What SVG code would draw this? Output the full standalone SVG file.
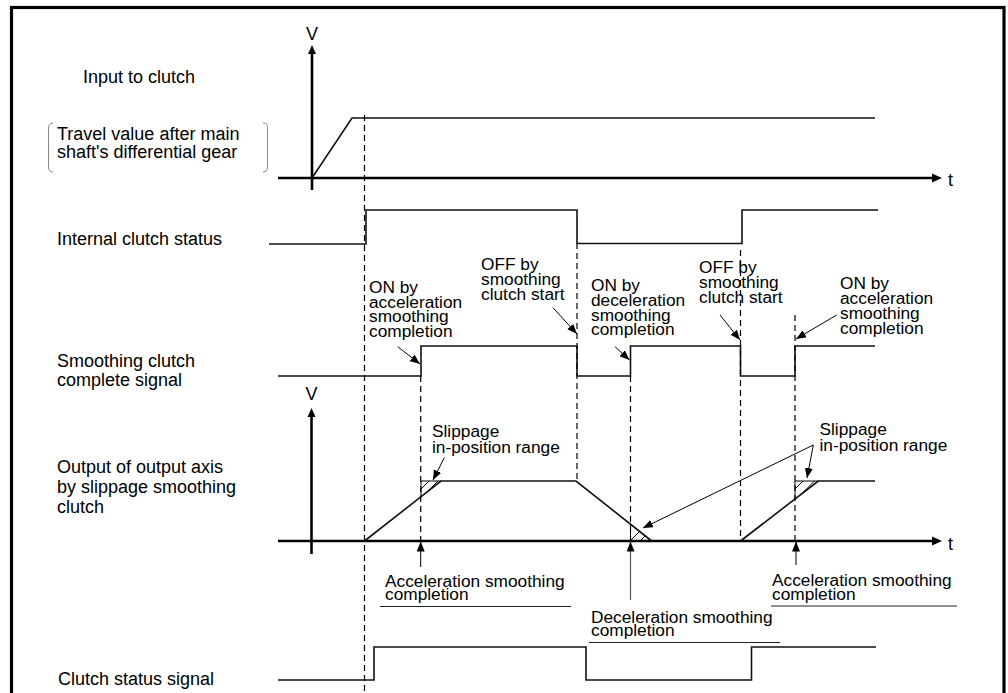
<svg xmlns="http://www.w3.org/2000/svg" width="1008" height="693" viewBox="0 0 1008 693">
<style>
text{font-family:"Liberation Sans",Arial,sans-serif;fill:#000}
.lbl{font-size:18px}
.ann{font-size:17.3px}
.sig{fill:none;stroke:#111;stroke-width:1.6}
.axis{fill:none;stroke:#000;stroke-width:2.6}
.dash{fill:none;stroke:#000;stroke-width:1.2;stroke-dasharray:6 4}
.arr{fill:none;stroke:#000;stroke-width:1;marker-end:url(#ah)}
.arrg{fill:none;stroke:#555;stroke-width:1.2;marker-end:url(#ah)}
.thin{fill:none;stroke:#000;stroke-width:1}
.ul{fill:none;stroke:#222;stroke-width:1}
</style>
<defs>
<marker id="ah" markerWidth="10" markerHeight="8" refX="10" refY="4" orient="auto" markerUnits="userSpaceOnUse"><path d="M0,0 L10,4 L0,8 z" fill="#000"/></marker>
</defs>
<rect x="0" y="0" width="1008" height="693" fill="#fff"/>
<rect x="11.5" y="7.5" width="992.5" height="720" fill="none" stroke="#000" stroke-width="3.2"/>

<g id="top-axes">
<line class="axis" x1="312" y1="53" x2="312" y2="190"/>
<polygon points="312,45 308,54 316,54" fill="#000"/>
<line class="axis" x1="278" y1="178" x2="934" y2="178"/>
<polygon points="942,178 932,173.5 932,182.5" fill="#000"/>
<text class="lbl" x="306" y="40">V</text>
<text class="lbl" x="948" y="186">t</text>
</g>

<g id="bottom-axes">
<line class="axis" x1="311.5" y1="416" x2="311.5" y2="554"/>
<polygon points="311.5,408 307.5,417 315.5,417" fill="#000"/>
<line class="axis" x1="278" y1="541" x2="934" y2="541"/>
<polygon points="942,541 932,536.5 932,545.5" fill="#000"/>
<text class="lbl" x="305.5" y="400">V</text>
<text class="lbl" x="948" y="550">t</text>
</g>

<g id="label-input">
<text class="lbl" x="83" y="83">Input to clutch</text>
<text class="lbl" x="57" y="140">Travel value after main</text>
<text class="lbl" x="57" y="158">shaft's differential gear</text>
<path d="M53,123 Q48.5,123 48.5,128 L48.5,167 Q48.5,172 53,172" fill="none" stroke="#888" stroke-width="1"/>
<path d="M263,123 Q267.5,123 267.5,128 L267.5,167 Q267.5,172 263,172" fill="none" stroke="#888" stroke-width="1"/>
</g>
<g id="label-internal"><text class="lbl" x="57" y="245">Internal clutch status</text></g>
<g id="label-smoothing">
<text class="lbl" x="57" y="367">Smoothing clutch</text>
<text class="lbl" x="57" y="386">complete signal</text>
</g>
<g id="label-output">
<text class="lbl" x="57" y="473">Output of output axis</text>
<text class="lbl" x="57" y="493">by slippage smoothing</text>
<text class="lbl" x="57" y="513">clutch</text>
</g>
<g id="label-clutch-status"><text class="lbl" x="58" y="685">Clutch status signal</text></g>

<g id="wave-input"><polyline class="sig" points="312,178 352,118 875,118"/></g>
<g id="wave-internal"><polyline class="sig" points="269,244 366,244 366,210 577,210 577,243.5 742,243.5 742,210 878,210"/></g>
<g id="wave-smoothing"><polyline class="sig" points="278,376 421,376 421,346 577,346 577,376 630.5,376 630.5,346 740.5,346 740.5,376 795,376 795,346 875,346"/></g>
<g id="wave-output">
<polyline class="sig" points="364.5,541 441,481 576,481 651.7,541"/>
<polyline class="sig" points="740.5,541 818.3,481 875,481"/>
<g id="hatch1">
<polyline class="thin" points="421,496.5 421,481 441,481"/>
<line class="thin" x1="421" y1="489" x2="429" y2="481"/>
<line class="thin" x1="428" y1="491" x2="438" y2="481"/>
</g>
<g id="hatch2">
<polyline class="thin" points="630.5,524 630.5,541"/>
<line class="thin" x1="631" y1="540" x2="640" y2="531"/>
<line class="thin" x1="640" y1="541" x2="645.5" y2="535.5"/>
</g>
<g id="hatch3">
<polyline class="thin" points="795,499 795,481 818,481"/>
<line class="thin" x1="795" y1="489" x2="803" y2="481"/>
<line class="thin" x1="802" y1="493.5" x2="814.5" y2="481"/>
</g>
</g>
<g id="wave-clutch-status"><polyline class="sig" points="278,680 374,680 374,647 586,647 586,680 751.5,680 751.5,647 876,647"/></g>

<g id="ann-on1">
<text class="ann" x="369" y="292.5">ON by</text>
<text class="ann" x="369" y="307.5">acceleration</text>
<text class="ann" x="369" y="322">smoothing</text>
<text class="ann" x="369" y="336.5">completion</text>
</g>
<g id="ann-off1">
<text class="ann" x="481" y="269.5">OFF by</text>
<text class="ann" x="481" y="285">smoothing</text>
<text class="ann" x="481" y="300">clutch start</text>
</g>
<g id="ann-on2">
<text class="ann" x="591" y="291">ON by</text>
<text class="ann" x="591" y="306">deceleration</text>
<text class="ann" x="591" y="320.5">smoothing</text>
<text class="ann" x="591" y="335">completion</text>
</g>
<g id="ann-off2">
<text class="ann" x="699" y="273">OFF by</text>
<text class="ann" x="699" y="288">smoothing</text>
<text class="ann" x="699" y="303">clutch start</text>
</g>
<g id="ann-on3">
<text class="ann" x="840" y="289">ON by</text>
<text class="ann" x="840" y="304">acceleration</text>
<text class="ann" x="840" y="319">smoothing</text>
<text class="ann" x="840" y="334">completion</text>
</g>
<g id="ann-slip1">
<text class="ann" x="432" y="437">Slippage</text>
<text class="ann" x="432" y="453">in-position range</text>
</g>
<g id="ann-slip2">
<text class="ann" x="819.5" y="435">Slippage</text>
<text class="ann" x="819.5" y="451">in-position range</text>
</g>
<g id="ann-acc1">
<text class="ann" x="385" y="586.5">Acceleration smoothing</text>
<text class="ann" x="385" y="600">completion</text>
<line class="ul" x1="380" y1="606.5" x2="571" y2="606.5"/>
</g>
<g id="ann-dec">
<text class="ann" x="591" y="622.5">Deceleration smoothing</text>
<text class="ann" x="591" y="636">completion</text>
<line class="ul" x1="589" y1="642.5" x2="780" y2="642.5"/>
</g>
<g id="ann-acc2">
<text class="ann" x="772" y="586">Acceleration smoothing</text>
<text class="ann" x="772" y="600">completion</text>
<line class="ul" x1="771" y1="606" x2="957" y2="606"/>
</g>

<g id="connectors">
<line class="dash" x1="364.5" y1="115" x2="364.5" y2="693"/>
<line class="dash" x1="420.7" y1="376" x2="420.7" y2="541"/>
<line class="dash" x1="577" y1="243" x2="577" y2="481"/>
<line class="dash" x1="630.5" y1="376" x2="630.5" y2="541"/>
<line class="dash" x1="740.5" y1="250" x2="740.5" y2="541"/>
<line class="dash" x1="795" y1="315" x2="795" y2="541"/>
<line class="arr" x1="397.7" y1="346.7" x2="420" y2="364"/>
<line class="arr" x1="553" y1="307.7" x2="577" y2="334"/>
<line class="arr" x1="615" y1="346.7" x2="629.5" y2="360"/>
<line class="arr" x1="720" y1="315" x2="740" y2="340"/>
<line class="arr" x1="836.7" y1="315" x2="796" y2="339"/>
<line class="arr" x1="444.3" y1="457.7" x2="433" y2="480"/>
<line class="arr" x1="813.3" y1="445" x2="643" y2="528"/>
<line class="arr" x1="813.3" y1="445" x2="807" y2="478"/>
<line class="arr" x1="420.7" y1="567" x2="420.7" y2="541.5"/>
<line class="arrg" x1="630.5" y1="600" x2="630.5" y2="541.5"/>
<line class="arr" x1="796" y1="565" x2="796" y2="541.5"/>
</g>
</svg>
